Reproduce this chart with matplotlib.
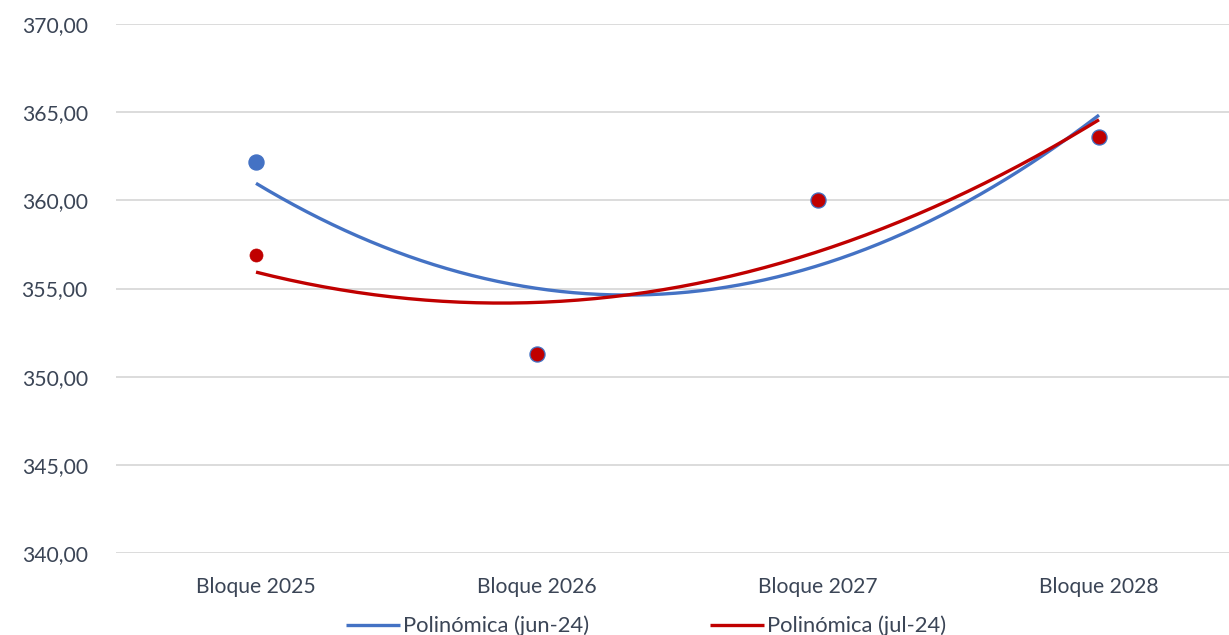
import numpy as np
import matplotlib
matplotlib.use("Agg")
import matplotlib.pyplot as plt
from matplotlib.ticker import FuncFormatter

categories = ["Bloque 2025", "Bloque 2026", "Bloque 2027", "Bloque 2028"]
jun24 = [362.2, 351.3, 360.0, 363.6]
jul24 = [356.9, 351.3, 360.0, 363.6]
yticks = [340, 345, 350, 355, 360, 365, 370]

BLUE = "#4472C4"
RED = "#C00000"
TXT = "#3B4556"

plt.rcParams['font.family'] = ['Lato', 'DejaVu Sans']

fig = plt.figure(figsize=(12.29, 6.35), dpi=100)
ax = fig.add_axes([115.5/1229, 82/635, 1124/1229, 529/635])

x = np.arange(1, len(categories) + 1)

# polynomial (order 2) trendlines, as in the spreadsheet
xs = np.linspace(1, len(categories), 200)
pb = np.polyfit(x, jun24, 2)
pr = np.polyfit(x, jul24, 2)
lb, = ax.plot(xs, np.polyval(pb, xs), color=BLUE, lw=2.4, zorder=3,
              label="Polinómica (jun-24)", solid_capstyle='butt')
lr, = ax.plot(xs, np.polyval(pr, xs), color=RED, lw=2.4, zorder=4,
              label="Polinómica (jul-24)", solid_capstyle='butt')

ax.plot(x, jun24, 'o', color=BLUE, ms=10.8, mec=BLUE, zorder=5, ls='none')
ax.plot(x, jul24, 'o', color=RED, ms=9.4, mec=RED, mew=0.5, zorder=6, ls='none')

ax.set_xlim(0.5, len(categories) + 0.5)
ax.set_ylim(340, 370)
ax.set_yticks(yticks)
ax.yaxis.set_major_formatter(FuncFormatter(lambda v, p: f"{v:.2f}".replace(".", ",")))
ax.set_xticks(x)
ax.set_xticklabels(categories)
ax.grid(axis='y', color='#D9D9D9', lw=1.3)
ax.set_axisbelow(True)
for s in ax.spines.values():
    s.set_visible(False)
ax.tick_params(axis='both', length=0, labelsize=15.2, colors=TXT)
ax.tick_params(axis='y', pad=20)
ax.tick_params(axis='x', pad=17.5)

fig.legend(handles=[lb, lr], loc='center left', bbox_to_anchor=(346/1229, 1 - 626/635),
           ncol=2, frameon=False, fontsize=15.8, handlelength=2.45, columnspacing=5.5,
           handletextpad=0.15, labelcolor=TXT, borderaxespad=0, borderpad=0)

fig.savefig("out.png", dpi=100)
